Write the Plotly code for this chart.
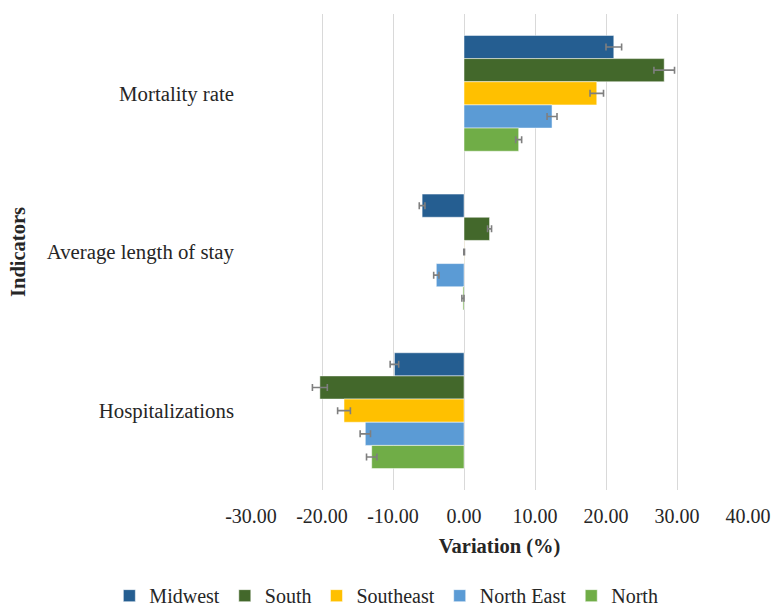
import plotly.graph_objects as go

# Indicators (top to bottom)
indicators = ['Mortality rate', 'Average length of stay', 'Hospitalizations']
regions = ['Midwest', 'South', 'Southeast', 'North East', 'North']

# variation (%) per region, order follows `indicators`
midwest = [21.1, -5.9, -9.8]
south = [28.2, 3.6, -20.3]
southeast = [18.7, 0.02, -16.9]
north_east = [12.4, -3.9, -13.9]
north = [7.7, -0.15, -13.0]

# error bar half-widths
midwest_err = [1.1, 0.4, 0.6]
south_err = [1.45, 0.28, 1.05]
southeast_err = [0.95, 0.05, 0.9]
north_east_err = [0.7, 0.37, 0.73]
north_err = [0.42, 0.15, 0.73]

# x axis ticks (hyphen minus, as in the source chart)
x_tickvals = [-30, -20, -10, 0, 10, 20, 30, 40]
x_ticktext = ['-30.00', '-20.00', '-10.00', '0.00', '10.00', '20.00', '30.00', '40.00']

values = [midwest, south, southeast, north_east, north]
errors = [midwest_err, south_err, southeast_err, north_east_err, north_err]
colors = ['#255E91', '#43682B', '#FFC000', '#5B9BD5', '#70AD47']

FONT = 'Liberation Serif, Times New Roman, serif'

fig = go.Figure()
for name, vals, errs, col in zip(regions, values, errors, colors):
    fig.add_trace(go.Bar(
        y=indicators, x=vals, name=name, orientation='h',
        marker=dict(color=col, line=dict(color='rgba(255,255,255,0.5)', width=1)),
        error_x=dict(type='data', array=errs, visible=True,
                     color='#7f7f7f', thickness=1.6, width=3.5),
    ))

fig.update_layout(
    width=772, height=610,
    template=None,
    paper_bgcolor='white', plot_bgcolor='white',
    barmode='group', bargap=0.27, bargroupgap=0,
    font=dict(family=FONT, color='#262626', size=20.5),
    margin=dict(l=251, r=24, t=14, b=120, autoexpand=False),
    showlegend=True,
    legend=dict(orientation='h', x=-0.285, xanchor='left',
                y=-0.181, yanchor='top',
                font=dict(size=20, family=FONT), itemwidth=30,
                traceorder='normal'),
)
fig.update_xaxes(
    range=[-30, 40], tickvals=x_tickvals, ticktext=x_ticktext,
    showgrid=True, gridcolor='#d9d9d9', gridwidth=1.2,
    zeroline=False, showline=False, ticks='', automargin=False,
    ticklabelstandoff=12,
    tickfont=dict(size=20, family=FONT),
    title=dict(text='<b>Variation (%)</b>', font=dict(size=20.5, family=FONT), standoff=12),
)
fig.update_yaxes(
    autorange='reversed', showgrid=False, zeroline=False, showline=False, ticks='',
    ticklabelstandoff=16, automargin=False,
    tickfont=dict(size=20.8, family=FONT),
    title=dict(text='<b>Indicators</b>', font=dict(size=20.5, family=FONT), standoff=15.5),
)

# the page body has a default 8px margin; remove it so the figure fills the window
fig.write_html('out.html', config={'displayModeBar': False},
               post_script="document.body.style.margin='0';")
